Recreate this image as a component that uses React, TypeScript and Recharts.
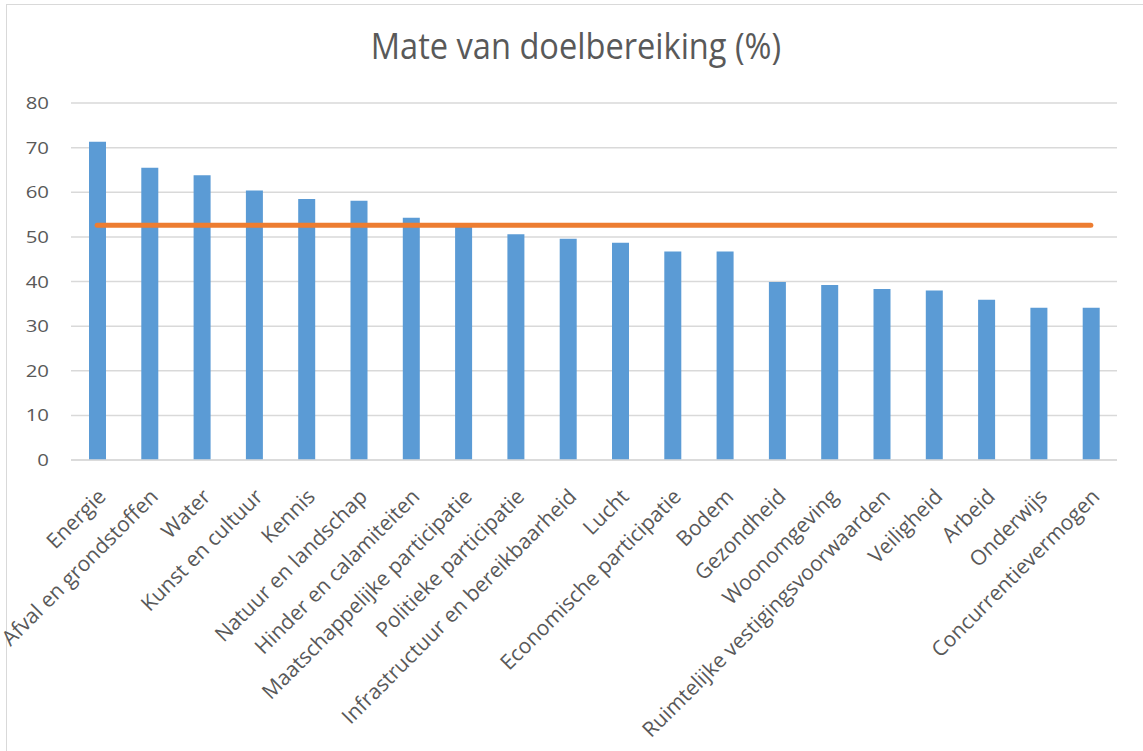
import React from 'react';
import { ComposedChart, Bar, Line, XAxis, YAxis, CartesianGrid } from 'recharts';

const categories = [
  'Energie',
  'Afval en grondstoffen',
  'Water',
  'Kunst en cultuur',
  'Kennis',
  'Natuur en landschap',
  'Hinder en calamiteiten',
  'Maatschappelijke participatie',
  'Politieke participatie',
  'Infrastructuur en bereikbaarheid',
  'Lucht',
  'Economische participatie',
  'Bodem',
  'Gezondheid',
  'Woonomgeving',
  'Ruimtelijke vestigingsvoorwaarden',
  'Veiligheid',
  'Arbeid',
  'Onderwijs',
  'Concurrentievermogen',
];

const scores = [71.3, 65.5, 63.8, 60.4, 58.5, 58.1, 54.3, 52.4, 50.6, 49.6, 48.7, 46.7, 46.7, 39.9, 39.2, 38.3, 38.0, 35.9, 34.1, 34.1];

const averages = [52.6, 52.6, 52.6, 52.6, 52.6, 52.6, 52.6, 52.6, 52.6, 52.6, 52.6, 52.6, 52.6, 52.6, 52.6, 52.6, 52.6, 52.6, 52.6, 52.6];

const yTicks = [0, 10, 20, 30, 40, 50, 60, 70, 80];

const data = categories.map((name, i) => ({ name, score: scores[i], avg: averages[i] }));

const FONT = '"Open Sans", "Noto Sans", sans-serif';

function AngledTick({ x, y, payload }: any) {
  return (
    <g transform={`translate(${x + 10},${y + 30})`}>
      <text
        x={0}
        y={0}
        textAnchor="end"
        transform="rotate(-45)"
        fill="#595959"
        fontSize={21}
        fontFamily={FONT}
      >
        {payload.value}
      </text>
    </g>
  );
}

function ValueTick({ x, y, payload }: any) {
  return (
    <g transform={`translate(${x},${y})`}>
      <text
        x={0}
        y={0}
        dy={6}
        textAnchor="end"
        transform="scale(1.2,1)"
        fill="#595959"
        fontSize={17}
        fontFamily={FONT}
      >
        {payload.value}
      </text>
    </g>
  );
}

export default function App() {
  return (
    <div style={{ position: 'absolute', left: 0, top: 0, width: 1143, height: 751, background: '#fff', overflow: 'hidden' }}>
      <div
        style={{
          position: 'absolute',
          left: 6,
          top: 4,
          width: 1160,
          height: 780,
          borderLeft: '1px solid #d9d9d9',
          borderTop: '1px solid #d9d9d9',
        }}
      />
      <div
        style={{
          position: 'absolute',
          top: 22,
          left: 0,
          width: 1152,
          textAlign: 'center',
          fontFamily: FONT,
          fontSize: 36,
          lineHeight: '48px',
          color: '#595959',
          transform: 'scaleX(0.905)',
        }}
      >
        Mate van doelbereiking (%)
      </div>
      <div style={{ position: 'absolute', left: 0, top: 0 }}>
        <ComposedChart width={1143} height={751} data={data} margin={{ top: 103, right: 26, bottom: 0, left: 0 }}>
          <CartesianGrid vertical={false} stroke="#d9d9d9" strokeWidth={1.5} />
          <XAxis
            dataKey="name"
            interval={0}
            height={291}
            tick={<AngledTick />}
            tickLine={false}
            axisLine={{ stroke: '#d9d9d9', strokeWidth: 1.5 }}
          />
          <YAxis
            domain={[0, 80]}
            ticks={yTicks}
            width={71}
            tickLine={false}
            axisLine={false}
            tickSize={0}
            tickMargin={22}
            tick={<ValueTick />}
          />
          <Bar dataKey="score" fill="#5b9bd5" barSize={17} isAnimationActive={false} />
          <Line
            type="linear"
            dataKey="avg"
            stroke="#ed7d31"
            strokeWidth={5}
            strokeLinecap="round"
            dot={false}
            activeDot={false}
            isAnimationActive={false}
          />
        </ComposedChart>
      </div>
    </div>
  );
}
